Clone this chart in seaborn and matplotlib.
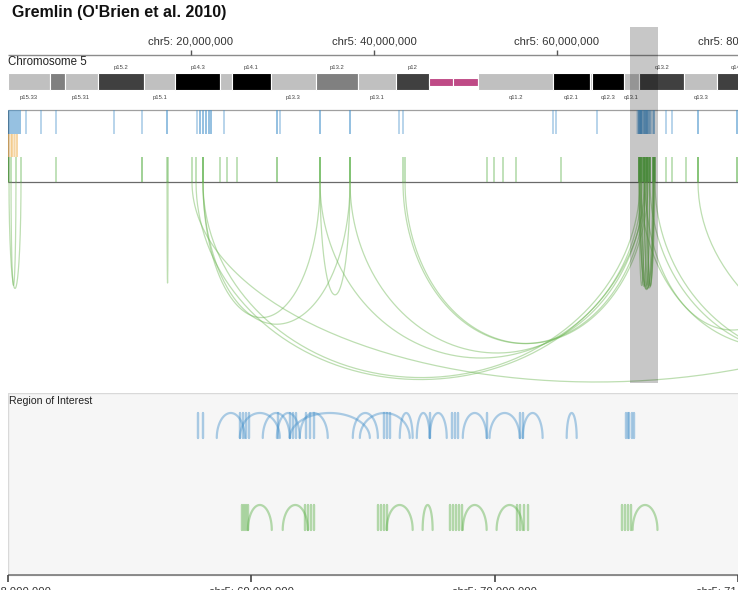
import numpy as np
import pandas as pd
import matplotlib
matplotlib.use("Agg")
import matplotlib.pyplot as plt
import seaborn as sns
from matplotlib.patches import Rectangle

# ---------------- data (positions in Mb on chr5) ----------------
title = "Gremlin (O'Brien et al. 2010)"
chrom_label = "Chromosome 5"
view_end = 79.78

band_names = ["p15.33", "p15.32", "p15.31", "p15.2", "p15.1", "p14.3", "p14.2", "p14.1",
              "p13.3", "p13.2", "p13.1", "p12", "p11", "q11.1", "q11.2", "q12.1", "q12.2",
              "q12.3", "q13.1", "q13.2", "q13.3", "q14.1"]
band_starts = [0.0, 4.6, 6.2, 9.8, 14.9, 18.3, 23.2, 24.5, 28.7, 33.7, 38.3, 42.4, 46.0,
               48.6, 51.4, 59.6, 63.6, 63.8, 67.3, 69.0, 73.9, 77.5]
band_ends = [4.6, 6.2, 9.8, 14.9, 18.3, 23.2, 24.5, 28.7, 33.7, 38.3, 42.4, 46.0, 48.6,
             51.4, 59.6, 63.6, 63.8, 67.3, 69.0, 73.9, 77.5, 82.0]
band_stains = ["gneg", "gpos50", "gneg", "gpos75", "gneg", "gpos100", "gneg", "gpos100",
               "gneg", "gpos50", "gneg", "gpos75", "acen", "acen", "gneg", "gpos100", "gneg",
               "gpos100", "gneg", "gpos75", "gneg", "gpos75"]
labels_above = ["p15.2", "p14.3", "p14.1", "p13.2", "p12", "q13.2", "q14.1"]
labels_below = ["p15.33", "p15.31", "p15.1", "p13.3", "p13.1", "q11.2", "q12.1", "q12.3",
                "q13.1", "q13.3"]

ruler_ticks = [20, 40, 60, 80]
roi_start, roi_end = 68.0, 71.0
roi_ticks = [68, 69, 70, 71]

blue_tick_pos = [0.0, 0.22, 0.44, 0.66, 0.87, 1.09, 1.31, 1.97, 3.61, 5.25, 11.58, 14.64,
                 17.38, 20.66, 20.98, 21.31, 21.64, 21.97, 22.19, 23.61, 29.40, 29.73, 34.10,
                 37.38, 42.73, 43.17, 59.56, 59.89, 64.37, 71.91, 72.57, 75.41, 79.67]
blue_tick_n = [2, 2, 2, 2, 2, 2, 2, 1, 1, 1, 1, 1, 2, 1, 2, 2, 2, 2, 2, 1, 2, 1, 2, 2, 1, 1,
               1, 1, 1, 1, 1, 2, 2]

orange_tick_pos = [0.0, 0.16, 0.32, 0.48, 0.64, 0.80, 0.95]
orange_tick_n = [2, 1, 1, 2, 1, 1, 2]

green_tick_pos = [0.0, 5.25, 14.64, 23.17, 23.93, 25.03, 29.40, 52.35, 53.11, 54.10, 55.52,
                  60.49, 71.91, 72.57, 74.10, 75.41, 79.67]
green_tick_n = [2, 1, 2, 1, 1, 1, 2, 1, 1, 1, 1, 1, 1, 1, 1, 2, 2]

link_start = [0.11, 0.33, 17.38, 21.31, 21.31, 34.10, 21.31, 20.55, 20.11, 34.10, 37.38,
              43.17, 43.39, 69.07, 69.62, 70.16, 70.71, 75.41,
              68.98, 69.05, 69.22, 69.25, 69.52, 69.56, 69.82, 69.10, 68.96, 69.85]
link_end = [1.42, 0.87, 17.49, 34.10, 37.38, 37.38, 69.07, 69.62, 108.4, 69.29, 69.51,
            69.73, 69.95, 97.5, 88.7, 103.0, 108.4, 135.7,
            70.60, 70.45, 70.55, 70.13, 70.67, 70.10, 70.52, 69.86, 69.55, 70.56]

blue_roi_bars = [68.780, 68.801, 68.953, 68.965, 68.977, 68.990, 69.109, 69.158, 69.170,
                 69.183, 69.224, 69.240, 69.257, 69.544, 69.556, 69.569, 69.733, 69.823,
                 69.836, 69.848, 69.967, 70.103, 70.115, 70.538, 70.546, 70.554, 70.563,
                 70.571]
blue_roi_start = [68.858, 68.953, 69.047, 69.105, 69.199, 69.158, 69.417, 69.446, 69.610,
                  69.680, 69.733, 69.869, 69.979, 70.115, 70.296]
blue_roi_end = [68.973, 69.117, 69.158, 69.199, 69.314, 69.487, 69.520, 69.651, 69.663,
                69.733, 69.803, 69.967, 70.103, 70.197, 70.337]

green_roi_bars = [68.961, 68.969, 68.977, 68.986, 69.220, 69.232, 69.244, 69.257, 69.520,
                  69.532, 69.544, 69.556, 69.815, 69.828, 69.840, 69.852, 69.864, 70.090,
                  70.103, 70.119, 70.136, 70.522, 70.534, 70.546, 70.559]
green_roi_start = [68.986, 69.129, 69.556, 69.704, 69.869, 70.008, 70.567]
green_roi_end = [69.084, 69.232, 69.663, 69.745, 69.967, 70.115, 70.669]

# ---------------- styling ----------------
sns.set_theme(style="white")
plt.rcParams['font.family'] = ['Liberation Sans', 'DejaVu Sans']

W, H = 738, 590
fig = plt.figure(figsize=(W / 100, H / 100), dpi=100)

BLUE = "#4a94cc"
GREEN = "#5fb24c"
ORANGE = "#f0b860"
stain_color = {"gneg": "#c0c0c0", "gpos50": "#808080", "gpos75": "#404040",
               "gpos100": "#000000", "acen": "#bf4a86"}

ax = fig.add_axes([8 / W, (H - 390) / H, 730 / W, 390 / H])
ax_roi = fig.add_axes([8 / W, 0, 730 / W, (H - 393) / H])


def arcs_frame(starts, ends, base, depths, sign, n=90):
    parts = []
    for i, (s, e, d) in enumerate(zip(starts, ends, depths)):
        t = np.linspace(0, np.pi, n)
        x = (s + e) / 2 - (e - s) / 2 * np.cos(t)
        y = base + sign * d * np.sin(t)
        parts.append(pd.DataFrame({"x": x, "y": y, "id": i}))
    return pd.concat(parts, ignore_index=True)


def draw_ticks(a, pos, counts, y0, y1, color, base_alpha, lw=1.1):
    for p, c in zip(pos, counts):
        a.vlines(p, y0, y1, color=color, alpha=1 - (1 - base_alpha) ** c, lw=lw)


# ---------------- top panel ----------------
ax.hlines(55, 0, view_end, color="#8c8c8c", lw=1.0)
for v in ruler_ticks:
    ax.vlines(v, 50, 55, color="#555555", lw=1.0)
    ax.text(v, 41, f"chr5: {v * 1_000_000:,.0f}", ha="center", va="center",
            fontsize=8.1, color="#333333", clip_on=False)

ax.text(0, 62, chrom_label, ha="left", va="center", fontsize=8.3, color="#222222")

for name, s, e, st in zip(band_names, band_starts, band_ends, band_stains):
    if st == "acen":
        ax.bar(x=s, height=8, width=e - s, bottom=78, align="edge", color=stain_color[st],
               edgecolor="white", linewidth=0.8)
    else:
        ax.bar(x=s, height=17, width=e - s, bottom=73, align="edge", color=stain_color[st],
               edgecolor="white", linewidth=0.8)
    c = (s + e) / 2
    if name in labels_above:
        ax.text(c, 67, name, ha="center", va="center", fontsize=4.2, color="#444444")
    elif name in labels_below:
        ax.text(c, 97, name, ha="center", va="center", fontsize=4.2, color="#444444")

ax.hlines(110, 0, view_end, color="#a0a0a0", lw=0.9)
ax.hlines(182, 0, view_end, color="#6a6a6a", lw=0.9)
ax.vlines(0, 110, 182, color="#555555", lw=1.0)

draw_ticks(ax, blue_tick_pos, blue_tick_n, 110, 133.5, BLUE, 0.5)
roi_blue_pos = list(blue_roi_bars) + list(blue_roi_start) + list(blue_roi_end)
draw_ticks(ax, roi_blue_pos, [1] * len(roi_blue_pos), 110, 133.5, BLUE, 0.25)

draw_ticks(ax, orange_tick_pos, orange_tick_n, 133.5, 157, ORANGE, 0.35, lw=1.4)

draw_ticks(ax, green_tick_pos, green_tick_n, 157, 182, GREEN, 0.5)
draw_ticks(ax, list(link_start) + list(link_end), [1] * (2 * len(link_start)),
           157, 182, GREEN, 0.5)
roi_green_pos = list(green_roi_bars) + list(green_roi_start) + list(green_roi_end)
draw_ticks(ax, roi_green_pos, [1] * len(roi_green_pos), 157, 182, GREEN, 0.25)

px_per_mb = 730 / view_end
depths = [min(200.0, 100 + ((e - s) * px_per_mb) ** 0.75)
          for s, e in zip(link_start, link_end)]
df_top = arcs_frame(link_start, link_end, 182, depths, +1, n=160)
sns.lineplot(data=df_top, x="x", y="y", units="id", estimator=None, sort=False,
             color="#6db653", alpha=0.45, linewidth=0.9, legend=False, ax=ax)

ax.add_patch(Rectangle((roi_start, 27), roi_end - roi_start, 383 - 27,
                       facecolor="black", alpha=0.22, edgecolor="none", zorder=10))

ax.set_xlim(0, view_end)
ax.set_ylim(390, 0)
ax.axis("off")

# ---------------- region of interest panel ----------------
ax_roi.add_patch(Rectangle((roi_start, 393.5), roi_end - roi_start + 1, 575 - 393.5,
                           facecolor="#f6f6f6", edgecolor="#d9d9d9", lw=1.0, zorder=0))
ax_roi.text(roi_start + 0.004, 401, "Region of Interest", ha="left", va="center",
            fontsize=7.6, color="#222222")

b_s = list(blue_roi_bars) + list(blue_roi_start)
b_e = list(blue_roi_bars) + list(blue_roi_end)
df_b = arcs_frame(b_s, b_e, 438, [25] * len(b_s), -1)
sns.lineplot(data=df_b, x="x", y="y", units="id", estimator=None, sort=False,
             color=BLUE, alpha=0.45, linewidth=1.6, legend=False, ax=ax_roi)

g_s = list(green_roi_bars) + list(green_roi_start)
g_e = list(green_roi_bars) + list(green_roi_end)
df_g = arcs_frame(g_s, g_e, 530, [25] * len(g_s), -1)
sns.lineplot(data=df_g, x="x", y="y", units="id", estimator=None, sort=False,
             color=GREEN, alpha=0.45, linewidth=1.6, legend=False, ax=ax_roi)

ax_roi.hlines(575, roi_start, roi_end, color="#7a7a7a", lw=1.2)
for v in roi_ticks:
    ax_roi.vlines(v, 575, 582, color="#444444", lw=1.2, clip_on=False)
    ax_roi.text(v, 586.5, f"chr5: {v * 1_000_000:,.0f}", ha="center", va="top",
                fontsize=8.1, color="#333333", clip_on=False)

ax_roi.set_xlim(roi_start, roi_end)
ax_roi.set_ylim(590, 393)
ax_roi.axis("off")

fig.text(12 / W, 1 - 12 / H, title, ha="left", va="center", fontsize=11.5,
         fontweight="bold", color="#111111")

fig.savefig("out.png", dpi=100)
